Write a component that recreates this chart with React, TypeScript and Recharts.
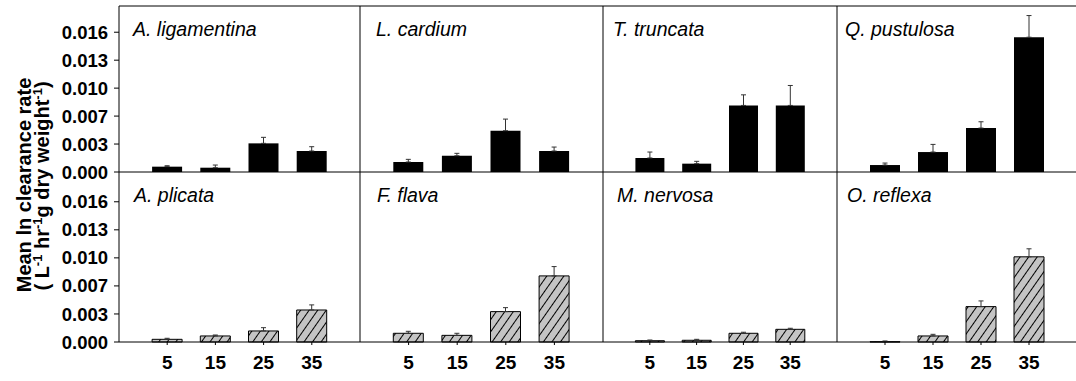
import React from "react";
import { BarChart, Bar, XAxis, YAxis, ErrorBar, ReferenceLine } from "recharts";

// Water temperature treatments (°C)
const TEMPERATURES = ["5", "15", "25", "35"];

// Shared y-axis ticks
const Y_TICKS = [0, 0.00325, 0.0065, 0.00975, 0.013, 0.01625];
const Y_TICK_LABELS = ["0.000", "0.003", "0.007", "0.010", "0.013", "0.016"];

// Species names, top row then bottom row
const TOP_SPECIES = ["A. ligamentina", "L. cardium", "T. truncata", "Q. pustulosa"];
const BOTTOM_SPECIES = ["A. plicata", "F. flava", "M. nervosa", "O. reflexa"];

// Mean clearance rate and standard error per temperature
const ligamentinaMean = [0.00062, 0.0005, 0.00333, 0.00244];
const ligamentinaSE = [0.00011, 0.00031, 0.0007, 0.0005];
const cardiumMean = [0.00116, 0.00189, 0.0048, 0.00244];
const cardiumSE = [0.00031, 0.00028, 0.00135, 0.00046];
const truncataMean = [0.00163, 0.00097, 0.00774, 0.00774];
const truncataSE = [0.00069, 0.00027, 0.00123, 0.00232];
const pustulosaMean = [0.00081, 0.00232, 0.00511, 0.01567];
const pustulosaSE = [0.00023, 0.00089, 0.00073, 0.00252];
const plicataMean = [0.00031, 0.0007, 0.00128, 0.00371];
const plicataSE = [0.00012, 0.00011, 0.00038, 0.00059];
const flavaMean = [0.00101, 0.00077, 0.00352, 0.00766];
const flavaSE = [0.00023, 0.00024, 0.00046, 0.00108];
const nervosaMean = [0.00015, 0.0002, 0.00101, 0.00147];
const nervosaSE = [0.00008, 0.00011, 0.00012, 0.00012];
const reflexaMean = [0.00003, 0.0007, 0.0041, 0.00987];
const reflexaSE = [0.00009, 0.00019, 0.00066, 0.00093];

const TOP_MEANS = [ligamentinaMean, cardiumMean, truncataMean, pustulosaMean];
const TOP_SE = [ligamentinaSE, cardiumSE, truncataSE, pustulosaSE];
const BOTTOM_MEANS = [plicataMean, flavaMean, nervosaMean, reflexaMean];
const BOTTOM_SE = [plicataSE, flavaSE, nervosaSE, reflexaSE];

// Panel grid layout (pixels)
const COL_LEFT = [119, 360, 603, 837];
const COL_WIDTH = [241, 243, 234, 240];
const ROW_TOP = [6, 172];
const ROW_HEIGHT = [166, 170];
const ROW_YMAX = [0.0193, 0.0197];
const NAME_DX = [
  [14, 16, 10, 8],
  [15, 17, 14, 10],
];
const BAR_SIZE = [30, 30, 29, 30];

const FONT = "'Liberation Sans', Arial, Helvetica, sans-serif";

type PanelProps = {
  row: number;
  col: number;
  name: string;
  means: number[];
  se: number[];
};

function Panel({ row, col, name, means, se }: PanelProps) {
  const data = TEMPERATURES.map((t, i) => ({
    temp: t,
    value: means[i],
    err: [0, se[i]],
  }));
  const axisW = col === 0 ? 119 : 1;
  const mTop = row === 0 ? 10 : 0;
  const mBottom = row === 0 ? 12 : 0;
  const xAxisH = row === 1 ? 39 : 0;
  const w = COL_WIDTH[col];
  const chartW = axisW + w;
  const chartH = mTop + ROW_HEIGHT[row] + mBottom + xAxisH;
  const left = COL_LEFT[col] - axisW;
  const top = ROW_TOP[row] - mTop;
  const yMax = ROW_YMAX[row];
  const hatchId = `hatch-${row}-${col}`;
  const dx = NAME_DX[row][col];

  const nameLabel = (p: any) => {
    const vb = p.viewBox || {};
    return (
      <text
        x={(vb.x || 0) + dx}
        y={(vb.y || 0) + 30}
        fontFamily={FONT}
        fontSize={19.5}
        fontStyle="italic"
        fill="#000"
        textAnchor="start"
      >
        {name}
      </text>
    );
  };

  return (
    <div style={{ position: "absolute", left, top }}>
      <BarChart
        width={chartW}
        height={chartH}
        data={data}
        margin={{ top: mTop, right: 0, bottom: mBottom, left: 0 }}
      >
        <defs>
          <pattern
            id={hatchId}
            patternUnits="userSpaceOnUse"
            width={7}
            height={7}
            patternTransform="rotate(35)"
          >
            <rect width={7} height={7} fill="#c4c4c4" />
            <line x1={3.5} y1={0} x2={3.5} y2={7} stroke="#000" strokeWidth={1} />
          </pattern>
        </defs>
        <XAxis
          dataKey="temp"
          hide={row === 0}
          height={xAxisH || 30}
          padding={{ left: w / 10, right: w / 10 }}
          axisLine={{ stroke: "#000" }}
          tickLine={{ stroke: "#000" }}
          tickSize={3}
          tickMargin={11}
          tick={{ fill: "#000", fontSize: 19, fontWeight: "bold", fontFamily: FONT }}
          interval={0}
        />
        {col === 0 ? (
          <YAxis
            width={axisW}
            domain={[0, yMax]}
            ticks={Y_TICKS}
            tickFormatter={(v: number) => Y_TICK_LABELS[Y_TICKS.indexOf(v)]}
            axisLine={{ stroke: "#000" }}
            tickLine={{ stroke: "#000" }}
            tickSize={5}
            tickMargin={6}
            tick={{ fill: "#000", fontSize: 18.5, fontWeight: "bold", fontFamily: FONT }}
            interval={0}
          />
        ) : (
          <YAxis
            width={axisW}
            domain={[0, yMax]}
            ticks={Y_TICKS}
            tick={false}
            tickLine={false}
            axisLine={{ stroke: "#000" }}
          />
        )}
        <Bar
          dataKey="value"
          barSize={BAR_SIZE[col]}
          fill={row === 0 ? "#000" : `url(#${hatchId})`}
          stroke="#000"
          strokeWidth={row === 0 ? 0 : 1}
          isAnimationActive={false}
        >
          <ErrorBar
            dataKey="err"
            width={2.5}
            stroke="#333"
            strokeWidth={1}
            isAnimationActive={false}
          />
        </Bar>
        {row === 0 && <ReferenceLine y={0} stroke="#000" strokeWidth={1} />}
        <ReferenceLine
          y={yMax}
          stroke={row === 0 ? "#000" : "none"}
          strokeWidth={1}
          label={nameLabel}
        />
      </BarChart>
    </div>
  );
}

function AxisTitle() {
  return (
    <svg
      width={60}
      height={381}
      style={{ position: "absolute", left: 0, top: 0 }}
    >
      <text
        transform="translate(31,185) rotate(-90)"
        textAnchor="middle"
        fontFamily={FONT}
        fontWeight="bold"
        fontSize={20}
        fill="#000"
      >
        Mean ln clearance rate
      </text>
      <text
        transform="translate(49,186) rotate(-90)"
        textAnchor="middle"
        fontFamily={FONT}
        fontWeight="bold"
        fontSize={20}
        fill="#000"
      >
        ( L
        <tspan dy={-7} fontSize={13}>-1</tspan>
        <tspan dy={7}> hr</tspan>
        <tspan dy={-7} fontSize={13}>-1</tspan>
        <tspan dy={7}>g dry weight</tspan>
        <tspan dy={-7} fontSize={13}>-1</tspan>
        <tspan dy={7}>)</tspan>
      </text>
    </svg>
  );
}

export default function App() {
  return (
    <div
      style={{
        position: "absolute",
        left: 0,
        top: 0,
        width: 1076,
        height: 381,
        overflow: "hidden",
        background: "#fff",
      }}
    >
      {TOP_SPECIES.map((name, c) => (
        <Panel key={`t${c}`} row={0} col={c} name={name} means={TOP_MEANS[c]} se={TOP_SE[c]} />
      ))}
      {BOTTOM_SPECIES.map((name, c) => (
        <Panel key={`b${c}`} row={1} col={c} name={name} means={BOTTOM_MEANS[c]} se={BOTTOM_SE[c]} />
      ))}
      <AxisTitle />
    </div>
  );
}
